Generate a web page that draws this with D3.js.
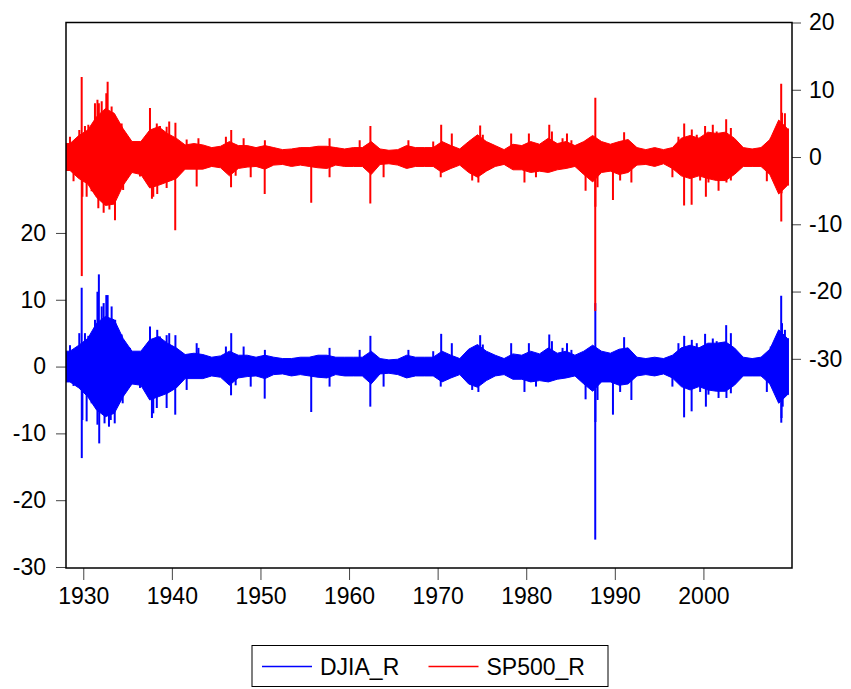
<!DOCTYPE html>
<html>
<head>
  <meta charset="UTF-8">
  <title>DJIA_R / SP500_R</title>
  <style>
    body { margin: 0; background: #fff; }
    text { font-family: Arial, "Liberation Sans", sans-serif; }
  </style>
</head>
<body>
<script src="https://d3js.org/d3.v7.min.js"></script>
<script>
// first and last observation (decimal years)
let obsStart = 1928.05;
let obsEnd = 2009.6;
// one band value per calendar year 1928..2009 (dense part of the daily returns)
let years = d3.range(1928, 2010);

let djiaHi = [2.3, 3.2, 4.2, 6.5, 7.5, 7.0, 4.2, 2.3, 2.3, 4.0, 4.5, 3.5, 2.8, 1.8, 2.0, 1.8, 1.4, 1.6, 2.3, 1.7,
  1.7, 1.4, 1.7, 1.4, 1.2, 1.2, 1.4, 1.4, 1.7, 1.7, 1.4, 1.4, 1.4, 1.4, 2.3, 1.2, 1.0, 1.1, 1.7, 1.4,
  1.4, 1.4, 2.3, 1.7, 1.2, 2.6, 3.3, 2.3, 1.7, 1.2, 1.9, 1.7, 2.3, 1.9, 2.8, 2.0, 2.3, 1.7, 2.3, 3.2,
  2.3, 2.0, 2.6, 2.8, 1.4, 1.2, 1.4, 1.2, 1.7, 2.8, 3.2, 2.8, 3.5, 3.5, 3.7, 2.8, 1.4, 1.2, 1.4, 2.6,
  5.5, 4.2];
let djiaLo = [-2.3, -3.2, -4.5, -6.5, -7.5, -7.0, -4.5, -2.6, -2.8, -5.0, -4.5, -4.0, -3.2, -1.8, -1.8, -1.8, -1.4, -1.6, -2.8, -1.7,
  -1.5, -1.4, -1.8, -1.2, -1.1, -1.4, -1.2, -1.4, -1.6, -1.7, -1.2, -1.4, -1.4, -1.4, -2.6, -1.1, -1.0, -1.2, -1.7, -1.4,
  -1.4, -1.4, -2.3, -1.7, -1.2, -2.6, -3.1, -2.1, -1.4, -1.2, -1.9, -1.9, -2.3, -2.1, -2.3, -1.9, -1.7, -1.4, -2.6, -3.7,
  -2.3, -2.3, -2.8, -2.6, -1.4, -1.2, -1.4, -1.1, -1.7, -3.0, -3.5, -3.0, -3.5, -3.7, -3.7, -2.8, -1.4, -1.4, -1.4, -2.6,
  -5.5, -4.2];
let spHi = [2.0, 3.2, 4.0, 6.0, 7.2, 6.5, 4.2, 2.3, 2.3, 4.0, 4.5, 3.5, 2.8, 1.8, 2.0, 1.8, 1.4, 1.6, 2.3, 1.7,
  1.7, 1.4, 1.7, 1.4, 1.1, 1.2, 1.4, 1.4, 1.6, 1.6, 1.4, 1.2, 1.4, 1.4, 2.3, 1.2, 1.0, 1.1, 1.7, 1.4,
  1.4, 1.4, 2.3, 1.7, 1.2, 2.3, 3.3, 2.3, 1.7, 1.1, 1.9, 1.7, 2.3, 1.9, 2.8, 2.0, 2.3, 1.7, 2.3, 3.2,
  2.3, 1.9, 2.3, 2.6, 1.4, 1.1, 1.4, 1.1, 1.4, 2.8, 3.2, 2.8, 3.7, 3.5, 3.7, 2.8, 1.4, 1.2, 1.4, 2.6,
  5.5, 4.2];
let spLo = [-2.0, -3.2, -4.0, -6.0, -7.2, -7.0, -4.2, -2.3, -2.6, -4.6, -4.2, -3.7, -3.2, -1.8, -1.8, -1.8, -1.4, -1.6, -2.8, -1.7,
  -1.5, -1.4, -1.8, -1.2, -1.1, -1.4, -1.2, -1.4, -1.6, -1.7, -1.2, -1.4, -1.4, -1.4, -2.6, -1.1, -1.0, -1.2, -1.7, -1.4,
  -1.4, -1.4, -2.3, -1.7, -1.2, -2.3, -3.0, -2.1, -1.4, -1.1, -1.9, -1.9, -2.3, -2.1, -2.3, -1.9, -1.7, -1.4, -2.6, -3.7,
  -2.3, -2.1, -2.6, -2.3, -1.2, -1.1, -1.4, -1.0, -1.7, -2.8, -3.2, -2.8, -3.2, -3.5, -3.5, -2.6, -1.4, -1.4, -1.4, -2.6,
  -5.5, -4.2];

// isolated large daily moves: [date, value]
let djiaSpikes = [[1928.5, 3.2], [1928.9, -2.9], [1929.55, 5.0], [1929.82, 11.8], [1929.83, -13.7], [1929.9, -8.0],
  [1930.19, 5.0], [1930.38, -8.2], [1930.57, 4.6], [1930.94, -5.5], [1931.32, 7.0], [1931.6, 11.2], [1931.76, 13.8],
  [1931.8, -11.5], [1931.6, -8.7], [1932.08, 9.0], [1932.3, 9.5], [1932.4, -8.5], [1932.6, 10.7], [1932.75, 10.7],
  [1932.9, -9.0], [1933.2, 9.0], [1933.1, -8.0], [1933.55, -8.5], [1933.6, 7.0], [1933.95, 5.5], [1934.33, 4.8],
  [1934.45, -5.5], [1935.27, 2.8], [1936.4, -3.2], [1937.53, 6.0], [1937.75, -7.7], [1937.9, -7.0], [1938.3, -6.2],
  [1938.35, 5.5], [1938.66, 4.5], [1939.41, 4.7], [1939.41, -6.2], [1939.7, 5.0], [1940.38, -7.2], [1940.4, 4.7],
  [1941.67, -3.5], [1942.8, 3.5], [1943.0, 2.8], [1946.1, 3.0], [1946.7, 5.0], [1946.68, -4.3], [1947.2, -2.8],
  [1948.1, 3.0], [1948.9, -3.0], [1950.48, -4.8], [1950.5, 2.5], [1955.73, -6.8], [1957.8, 2.8], [1957.8, -3.0],
  [1961.2, 2.5], [1962.4, -6.0], [1962.41, 4.6], [1963.9, -3.0], [1966.7, 2.5], [1969.5, 2.3], [1970.4, 4.9],
  [1970.35, -3.0], [1971.6, 3.5], [1973.9, -3.5], [1974.6, -3.8], [1974.8, 4.7], [1975.1, 3.3], [1978.3, 3.5],
  [1979.8, -3.8], [1980.3, 3.5], [1981.1, -3.0], [1982.6, 4.8], [1982.9, 3.8], [1984.1, 2.8], [1984.6, 3.5],
  [1985.1, 2.5], [1986.7, -4.9], [1987.79, -25.9], [1987.8, 9.5], [1987.81, -8.3], [1988.05, -5.0], [1989.79, -7.2],
  [1990.6, -3.8], [1991.05, 4.4], [1991.87, -5.0], [1996.5, -3.0], [1997.18, 3.5], [1997.82, -7.6], [1997.83, 4.6],
  [1998.67, -6.7], [1998.69, 4.0], [1999.25, 3.5], [1999.63, -3.8], [2000.19, 4.9], [2000.28, -6.0], [2000.57, -4.2],
  [2001.06, 4.2], [2001.5, 3.8], [2001.71, -4.7], [2001.9, 3.5], [2002.57, 6.2], [2002.6, -4.7], [2003.1, 5.0],
  [2003.1, -4.0], [2007.16, -3.8], [2007.6, 3.0], [2008.5, 4.5], [2008.78, 10.6], [2008.79, -8.4], [2008.82, -7.7],
  [2008.87, 6.5], [2008.95, -6.0], [2009.2, 5.5]];
let spSpikes = [[1928.5, 3.0], [1928.9, -3.6], [1929.55, 4.0], [1929.82, 11.9], [1929.83, -17.7], [1929.9, -5.9],
  [1930.19, 4.6], [1930.38, -5.9], [1930.57, 4.8], [1930.94, -5.1], [1931.32, 8.0], [1931.6, 8.5], [1931.76, 8.0],
  [1931.7, -7.6], [1932.0, -6.3], [1932.08, 8.3], [1932.3, -8.3], [1932.6, 9.5], [1932.75, 11.2], [1932.95, -7.8],
  [1933.2, 7.5], [1933.5, 6.3], [1933.58, -9.4], [1933.7, 5.3], [1933.95, 4.6], [1934.33, 5.0], [1934.5, -4.9],
  [1935.27, 2.6], [1936.4, -2.9], [1937.53, 7.3], [1937.75, -6.2], [1937.9, -5.9], [1938.3, 5.0], [1938.35, -5.5],
  [1938.66, 4.6], [1939.41, 4.5], [1939.41, -4.6], [1939.7, 5.3], [1940.38, -10.9], [1940.4, 5.1], [1941.67, 2.6],
  [1942.8, -4.4], [1943.0, 2.8], [1946.1, 3.0], [1946.7, 4.0], [1946.68, -4.5], [1947.2, -2.8], [1948.1, 2.8],
  [1948.9, -3.0], [1950.48, -5.5], [1950.5, 2.5], [1955.73, -6.8], [1957.8, 2.8], [1957.8, -3.0], [1961.2, 2.5],
  [1962.4, -6.9], [1962.41, 4.6], [1963.9, -3.0], [1966.7, 2.5], [1969.5, 2.3], [1970.4, 4.8], [1970.35, -3.0],
  [1971.6, 3.5], [1973.9, -3.5], [1974.6, -3.8], [1974.8, 4.7], [1975.1, 3.3], [1978.3, 3.5], [1979.8, -3.8],
  [1980.3, 3.5], [1981.1, -3.0], [1982.6, 4.8], [1982.9, 3.8], [1984.1, 2.8], [1984.6, 3.5], [1985.1, 2.5],
  [1986.7, -5.0], [1987.79, -22.9], [1987.8, 8.8], [1987.81, -7.4], [1988.05, -4.5], [1989.79, -6.4], [1990.6, -3.5],
  [1991.05, 3.7], [1991.87, -3.8], [1996.5, -3.0], [1997.18, 3.0], [1997.82, -7.2], [1997.83, 5.0], [1998.67, -7.1],
  [1998.69, 4.1], [1999.25, 3.3], [1999.63, -3.5], [2000.19, 4.6], [2000.28, -5.9], [2000.57, -3.8], [2001.06, 4.8],
  [2001.5, 3.8], [2001.71, -5.0], [2001.9, 3.3], [2002.57, 5.6], [2002.6, -3.8], [2003.1, 4.3], [2003.1, -3.5],
  [2007.16, -3.6], [2007.6, 2.8], [2008.5, 4.1], [2008.78, 10.9], [2008.79, -9.6], [2008.82, -5.4], [2008.87, 6.6],
  [2008.95, -4.4], [2009.2, 6.5]];

let xTicks = [1930, 1940, 1950, 1960, 1970, 1980, 1990, 2000];
let leftTicks = [-30, -20, -10, 0, 10, 20];
let rightTicks = [-30, -20, -10, 0, 10, 20];

let width = 851;
let height = 689;
let plot = { left: 66, right: 792, top: 22.5, bottom: 568 };

let svg = d3.select('body').append('svg')
  .attr('width', width)
  .attr('height', height);

let x = d3.scaleLinear().domain([1928.05, 2010.0]).range([plot.left, plot.right]);
let yL = d3.scaleLinear().domain([-30.15, 51.5]).range([plot.bottom, plot.top]);
let yR = d3.scaleLinear().domain([-61.1, 20]).range([plot.bottom, plot.top]);

svg.append('clipPath').attr('id', 'clip')
  .append('rect')
  .attr('x', plot.left).attr('y', plot.top)
  .attr('width', plot.right - plot.left).attr('height', plot.bottom - plot.top);

// band rows: mid-year points plus the first and last observation
function bandRows(hi, lo) {
  let rows = years.map(function (yr, i) { return { t: yr + 0.5, hi: hi[i], lo: lo[i] }; });
  rows.unshift({ t: obsStart, hi: hi[0], lo: lo[0] });
  rows.push({ t: obsEnd, hi: hi[hi.length - 1], lo: lo[lo.length - 1] });
  return rows;
}

function drawSeries(hi, lo, spikes, y, color) {
  let g = svg.append('g').attr('clip-path', 'url(#clip)');
  let area = d3.area()
    .x(function (d) { return x(d.t); })
    .y0(function (d) { return y(d.lo); })
    .y1(function (d) { return y(d.hi); });
  g.append('path')
    .datum(bandRows(hi, lo))
    .attr('fill', color)
    .attr('stroke', color)
    .attr('stroke-width', 1)
    .attr('d', area);
  g.selectAll('line.spike')
    .data(spikes)
    .enter()
    .append('line')
    .attr('class', 'spike')
    .attr('x1', function (d) { return x(d[0]); })
    .attr('x2', function (d) { return x(d[0]); })
    .attr('y1', y(0))
    .attr('y2', function (d) { return y(d[1]); })
    .attr('stroke', color)
    .attr('stroke-width', 2);
}

drawSeries(djiaHi, djiaLo, djiaSpikes, yL, '#0000ff');
drawSeries(spHi, spLo, spSpikes, yR, '#ff0000');

// axes
let fmt = function (d) { return String(d); };
let axL = svg.append('g')
  .attr('transform', 'translate(' + plot.left + ',0)')
  .call(d3.axisLeft(yL).tickValues(leftTicks).tickSize(10).tickPadding(10).tickFormat(fmt));
let axR = svg.append('g')
  .attr('transform', 'translate(' + plot.right + ',0)')
  .call(d3.axisRight(yR).tickValues(rightTicks).tickSize(9).tickPadding(8).tickFormat(fmt));
let axB = svg.append('g')
  .attr('transform', 'translate(0,' + plot.bottom + ')')
  .call(d3.axisBottom(x).tickValues(xTicks).tickSize(12).tickPadding(8).tickFormat(fmt));

[axL, axR, axB].forEach(function (a) {
  a.select('.domain').remove();
  a.selectAll('line').attr('stroke', '#444');
  a.selectAll('text').attr('fill', '#000').attr('font-size', '23px')
    .attr('font-family', 'Arial, "Liberation Sans", sans-serif');
});

// frame
svg.append('rect')
  .attr('x', plot.left).attr('y', plot.top)
  .attr('width', plot.right - plot.left).attr('height', plot.bottom - plot.top)
  .attr('fill', 'none')
  .attr('stroke', '#000')
  .attr('stroke-width', 1.5);

// legend
let legend = [{ name: 'DJIA_R', color: '#0000ff' }, { name: 'SP500_R', color: '#ff0000' }];
let lg = svg.append('g');
lg.append('rect')
  .attr('x', 252).attr('y', 645.5).attr('width', 356).attr('height', 41)
  .attr('fill', '#fff').attr('stroke', '#000').attr('stroke-width', 1);
let items = lg.selectAll('g.item').data(legend).enter().append('g')
  .attr('class', 'item')
  .attr('transform', function (d, i) { return 'translate(' + (262 + i * 166.5) + ',666.5)'; });
items.append('line')
  .attr('x1', 0).attr('x2', 50).attr('y1', 0).attr('y2', 0)
  .attr('stroke', function (d) { return d.color; })
  .attr('stroke-width', 1.5);
items.append('text')
  .attr('x', 58).attr('y', 0).attr('dy', '0.35em')
  .attr('font-size', '23px')
  .attr('fill', '#000')
  .text(function (d) { return d.name; });
</script>
</body>
</html>
